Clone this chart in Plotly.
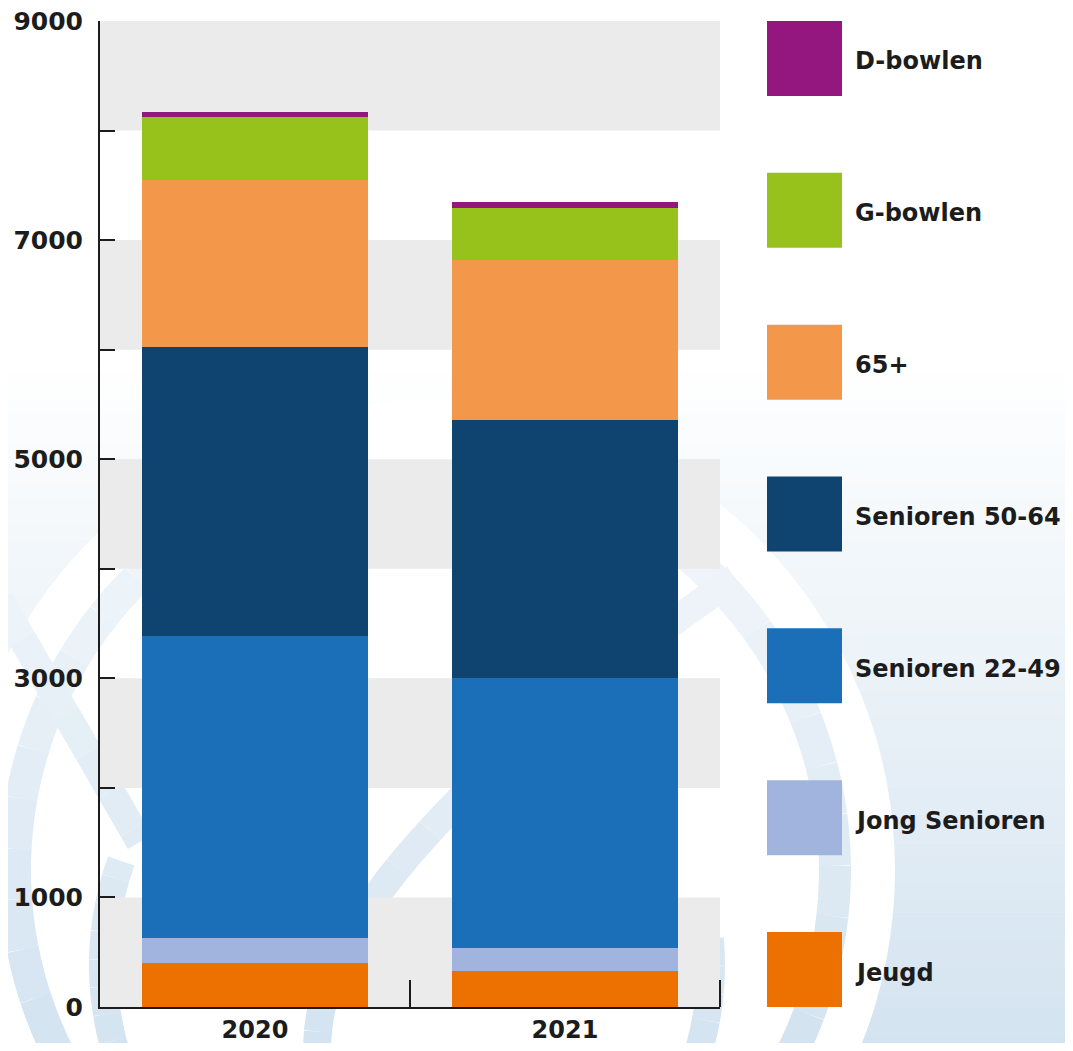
import numpy as np
import plotly.graph_objects as go

# ---------------- data ----------------
years = ["2020", "2021"]
series_names = ["Jeugd", "Jong Senioren", "Senioren 22-49", "Senioren 50-64",
                "65+", "G-bowlen", "D-bowlen"]
jeugd = [399, 326]
jong_senioren = [228, 210]
senioren_22_49 = [2763, 2466]
senioren_50_64 = [2635, 2356]
plus65 = [1526, 1461]
g_bowlen = [575, 475]
d_bowlen = [45, 55]
series_values = [jeugd, jong_senioren, senioren_22_49, senioren_50_64,
                 plus65, g_bowlen, d_bowlen]
colors = ["#ED7100", "#A0B4DD", "#1A6FB8", "#104470", "#F3984A", "#96C21B", "#93177E"]

y_tick_vals = [0, 1000, 2000, 3000, 4000, 5000, 6000, 7000, 8000, 9000]
y_tick_text = ["0", "1000", "", "3000", "", "5000", "", "7000", "", "9000"]
band_ranges = [(0, 1000), (2000, 3000), (4000, 5000), (6000, 7000), (8000, 9000)]

# page body has an 8px margin: figure is sized to fit inside the window
OFF = 8
W, H = 1073 - 2 * OFF, 1051 - 2 * OFF
FONT = "DejaVu Sans"
TXT = "#1c1c1c"


def fx(px):  # reference screen x -> paper fraction
    return (px - OFF) / W


def fy(py):  # reference screen y -> paper fraction
    return 1 - (py - OFF) / H


fig = go.Figure()

for name, vals, col in zip(series_names, series_values, colors):
    fig.add_trace(go.Bar(x=years, y=vals, name=name, marker=dict(color=col, line=dict(width=0)),
                         showlegend=False, xaxis="x", yaxis="y"))

# custom legend (big squares) on its own axes
n = len(series_names)
legend_pos = list(range(n))  # Jeugd at bottom (0), D-bowlen at top
leg_x0 = 751
leg_w = 1073 - OFF - leg_x0
fig.add_trace(go.Scatter(x=[(804.5 - leg_x0) / leg_w] * n, y=legend_pos, mode="markers",
                         marker=dict(symbol="square", size=75, color=colors, line=dict(width=0)),
                         showlegend=False, xaxis="x2", yaxis="y2", hoverinfo="skip"))
annotations = []
for name, pos in zip(series_names, legend_pos):
    annotations.append(dict(x=(853 - leg_x0) / leg_w, y=pos, xref="x2", yref="y2", text=name,
                            showarrow=False, xanchor="left", yanchor="middle", yshift=-3,
                            font=dict(family=FONT, size=24, color=TXT, weight="bold")))

shapes = []
# background gradient (white at top -> light blue at bottom)
top_px, bot_px = 360, 1051
steps = 50
c0 = np.array([255, 255, 255])
c1 = np.array([211, 227, 240])
for i in range(steps):
    t = (i + 0.5) / steps
    y0p = top_px + (bot_px - top_px) * i / steps
    y1p = top_px + (bot_px - top_px) * (i + 1) / steps
    col = np.round(c0 + (c1 - c0) * t).astype(int)
    shapes.append(dict(type="rect", xref="paper", yref="paper",
                       x0=0, x1=1, y0=fy(y1p), y1=fy(y0p) + 0.0005,
                       fillcolor="rgb(%d,%d,%d)" % tuple(col), line=dict(width=0), layer="below"))

# ---- watermark (approximate logo) ----
CX, CY = 425, 870
shapes.append(dict(type="circle", xref="paper", yref="paper",
                   x0=fx(CX - 470), x1=fx(CX + 470), y0=fy(CY + 470), y1=fy(CY - 470),
                   fillcolor="white", line=dict(width=0), layer="below"))


def wm_color(y):
    t = min(max((y - 450) / 600, 0), 1)
    c = np.array([246, 249, 252]) + (np.array([211, 227, 240]) - np.array([246, 249, 252])) * t
    return "rgb(%d,%d,%d)" % tuple(np.round(c).astype(int))


def polyline(pts, width):
    # split into short segments so the tint can follow the vertical gradient
    out = []
    for k in range(0, len(pts) - 1, 3):
        seg = pts[k:k + 4]
        ym = np.mean([p[1] for p in seg])
        d = "M " + " L ".join("%.5f,%.5f" % (fx(x), fy(y)) for x, y in seg)
        out.append(dict(type="path", xref="paper", yref="paper", path=d,
                        line=dict(color=wm_color(ym), width=width), layer="below"))
    return out


def arc_pts(cx, cy, r, a0, a1, num=120):
    th = np.radians(np.linspace(a0, a1, num))
    return list(zip(cx + r * np.cos(th), cy + r * np.sin(th)))


def bezier_pts(p0, p1, p2, num=40):
    t = np.linspace(0, 1, num)
    xs = (1 - t) ** 2 * p0[0] + 2 * (1 - t) * t * p1[0] + t ** 2 * p2[0]
    ys = (1 - t) ** 2 * p0[1] + 2 * (1 - t) * t * p1[1] + t ** 2 * p2[1]
    return list(zip(xs, ys))


def line_pts(p0, p1, num=20):
    return list(zip(np.linspace(p0[0], p1[0], num), np.linspace(p0[1], p1[1], num)))


shapes += polyline(arc_pts(CX, CY, 410, -50, 230), 32)
shapes += polyline(arc_pts(407, 965, 304, -5, 200), 28)
shapes += polyline(line_pts((0, 600), (140, 842)), 28)
shapes += polyline(bezier_pts((735, 578), (300, 880), (318, 1060)), 28)

for a, b in band_ranges:
    shapes.append(dict(type="rect", xref="x domain", yref="y", x0=0, x1=1, y0=a, y1=b,
                       fillcolor="#EBEBEB", line=dict(width=0), layer="below"))

x_dom = [fx(100), fx(720)]
y_dom = [fy(1007), fy(21)]
plot_h = (1007 - 21)

# right-end category boundary tick
shapes.append(dict(type="line", xref="x domain", yref="y domain", x0=1, x1=1,
                   y0=0, y1=27 / plot_h, line=dict(color="#1c1c1c", width=2)))

fig.update_layout(
    width=W, height=H,
    margin=dict(l=0, r=0, t=0, b=0, autoexpand=False),
    paper_bgcolor="white", plot_bgcolor="rgba(0,0,0,0)",
    barmode="stack", bargap=0.274,
    shapes=shapes, annotations=annotations,
    xaxis=dict(domain=x_dom, type="category", showgrid=False, zeroline=False, automargin=False,
               showline=True, linecolor="#1c1c1c", linewidth=2,
               ticks="inside", tickson="boundaries", ticklen=27, tickwidth=2, tickcolor="#1c1c1c",
               tickfont=dict(family=FONT, size=24, color=TXT, weight="bold"),
               ticklabelstandoff=0, ticklabeloverflow="allow", fixedrange=True),
    yaxis=dict(domain=y_dom, range=[0, 9000], showgrid=False, zeroline=False, automargin=False,
               showline=True, linecolor="#1c1c1c", linewidth=2,
               tickmode="array", tickvals=y_tick_vals, ticktext=y_tick_text,
               ticks="inside", ticklen=15, tickwidth=2, tickcolor="#1c1c1c",
               tickfont=dict(family=FONT, size=25, color=TXT, weight="bold"),
               ticklabelstandoff=10, ticklabeloverflow="allow", fixedrange=True),
    xaxis2=dict(domain=[fx(leg_x0), 1], range=[0, 1], visible=False, fixedrange=True),
    yaxis2=dict(domain=y_dom, range=[-0.247, 6.247], visible=False, fixedrange=True,
                anchor="x2"),
)

fig.write_html("out.html")
